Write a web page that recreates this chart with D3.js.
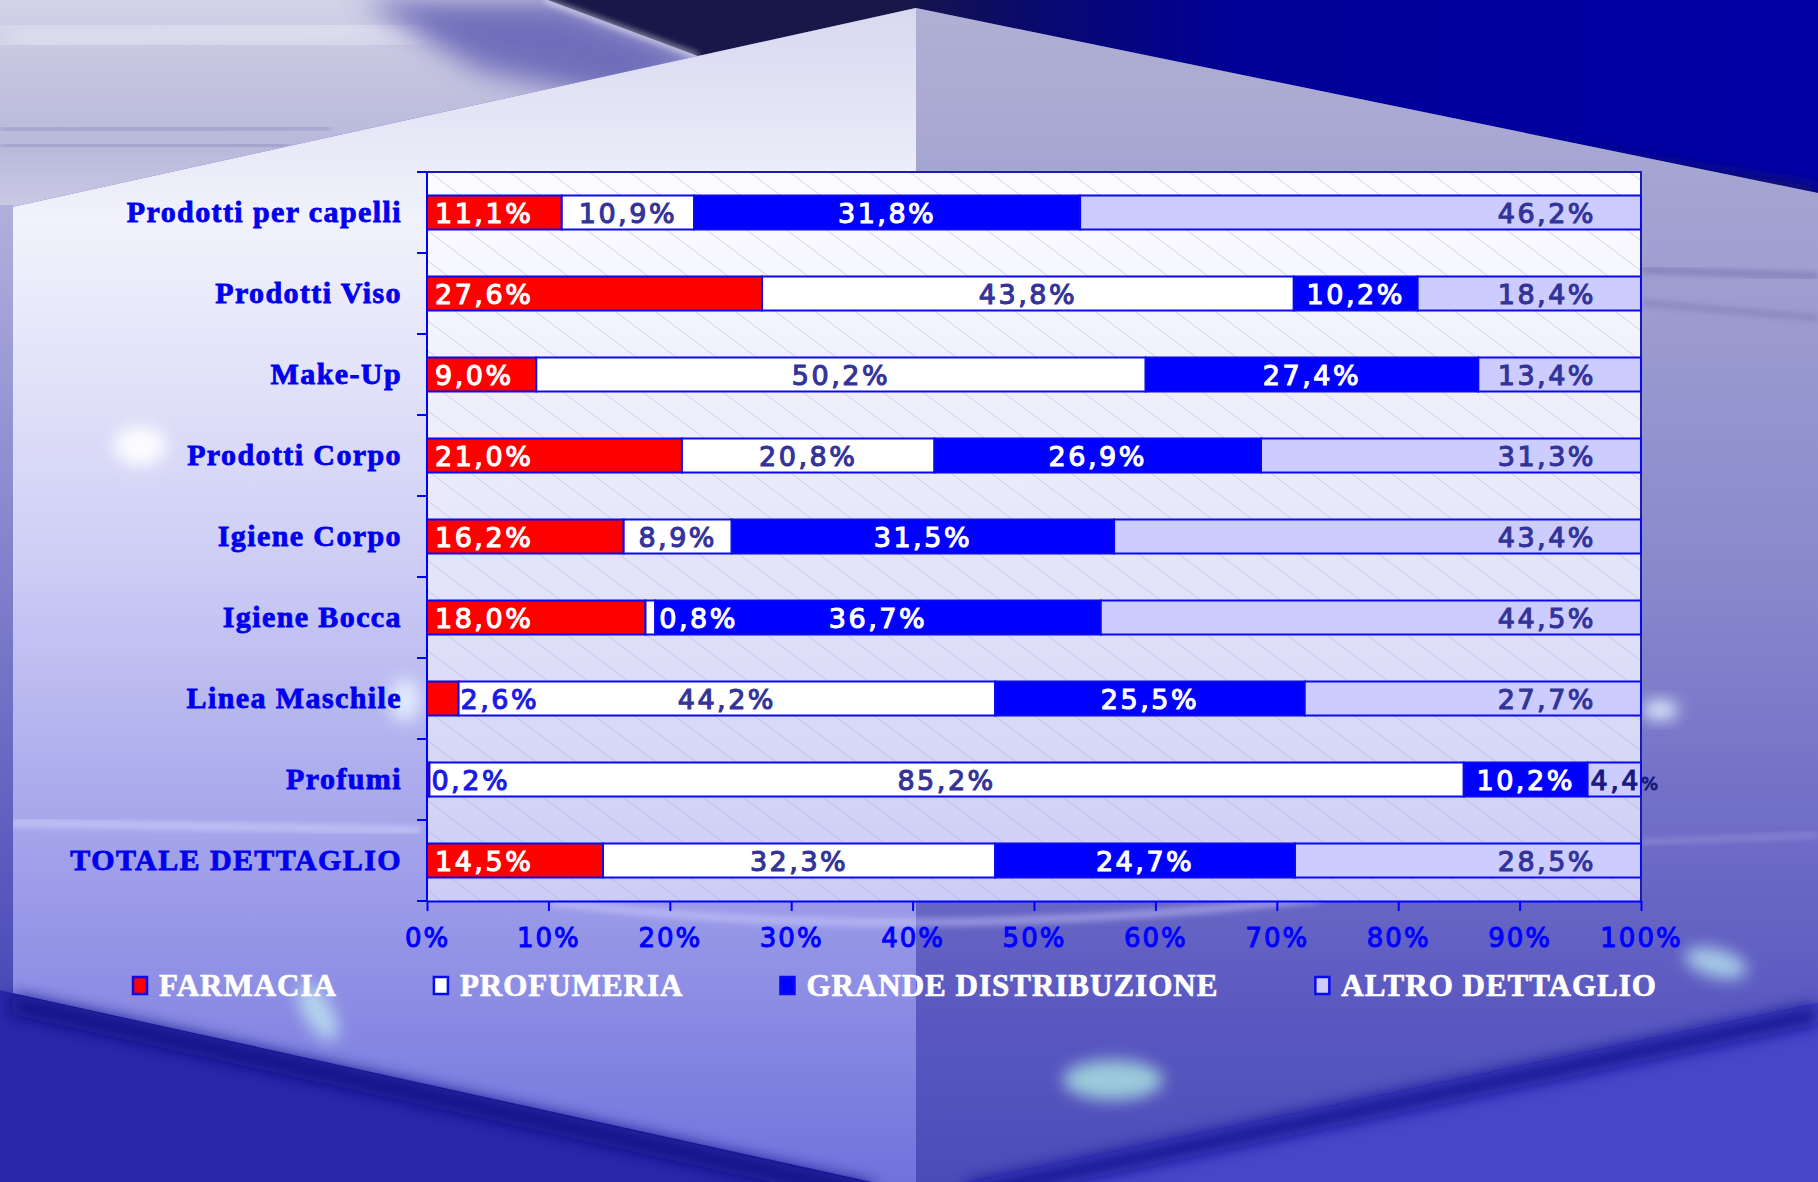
<!DOCTYPE html>
<html>
<head>
<meta charset="utf-8">
<script src="https://cdn.jsdelivr.net/npm/d3@7/dist/d3.min.js"></script>
<style>
  html, body { margin: 0; padding: 0; background: #3c3ab4; overflow: hidden; }
  svg { display: block; }
</style>
</head>
<body>
<div id="chart"></div>
<script>
// Categories, top to bottom
const categories = [
  "Prodotti per capelli",
  "Prodotti Viso",
  "Make-Up",
  "Prodotti Corpo",
  "Igiene Corpo",
  "Igiene Bocca",
  "Linea Maschile",
  "Profumi",
  "TOTALE DETTAGLIO",
];

// Channel shares (%) per category
const farmacia = [11.1, 27.6, 9.0, 21.0, 16.2, 18.0, 2.6, 0.2, 14.5];
const profumeria = [10.9, 43.8, 50.2, 20.8, 8.9, 0.8, 44.2, 85.2, 32.3];
const grandeDistribuzione = [31.8, 10.2, 27.4, 26.9, 31.5, 36.7, 25.5, 10.2, 24.7];
const altroDettaglio = [46.2, 18.4, 13.4, 31.3, 43.4, 44.5, 27.7, 4.4, 28.5];

const seriesNames = ["FARMACIA", "PROFUMERIA", "GRANDE DISTRIBUZIONE", "ALTRO DETTAGLIO"];
const xTicks = [0, 10, 20, 30, 40, 50, 60, 70, 80, 90, 100];

// Build table for the stack
const keys = ["farmacia", "profumeria", "grande", "altro"];
const table = categories.map((c, i) => ({
  category: c,
  farmacia: farmacia[i],
  profumeria: profumeria[i],
  grande: grandeDistribuzione[i],
  altro: altroDettaglio[i],
}));

const W = 1818, H = 1182;
const margin = { top: 172, right: 177, bottom: 281, left: 427 };
const plotW = W - margin.left - margin.right;
const plotH = H - margin.top - margin.bottom;

const fill = { farmacia: "#ff0000", profumeria: "#ffffff", grande: "#0000ff", altro: "#ccccff" };
const labelFont = "'DejaVu Sans', Verdana, sans-serif";
const serifFont = "'Liberation Serif', 'Times New Roman', serif";

const svg = d3.select("#chart").append("svg").attr("width", W).attr("height", H);
const defs = svg.append("defs");

function linGrad(id, stops, x1, y1, x2, y2) {
  const g = defs.append("linearGradient").attr("id", id)
    .attr("gradientUnits", "userSpaceOnUse")
    .attr("x1", x1).attr("y1", y1).attr("x2", x2).attr("y2", y2);
  stops.forEach(([o, c, a]) =>
    g.append("stop").attr("offset", o).attr("stop-color", c).attr("stop-opacity", a ?? 1));
}
function blur(id, s) {
  defs.append("filter").attr("id", id)
    .attr("x", "-50%").attr("y", "-50%").attr("width", "200%").attr("height", "200%")
    .append("feGaussianBlur").attr("stdDeviation", s);
}
blur("b3", 3); blur("b8", 8); blur("b14", 14);

// ---------- Background (3D cube scene) ----------
const bg = svg.append("g");
bg.append("rect").attr("width", W).attr("height", H).attr("fill", "#3c3ab4");

// Top-left sky
linGrad("gTL", [[0, "#d2d2e8"], [0.35, "#c4c4e0"], [0.7, "#b8b8da"], [1, "#cacae6"]], 0, 0, 0, 210);
bg.append("polygon").attr("points", "0,0 916,0 916,8 12,207 0,210").attr("fill", "url(#gTL)");
bg.append("path").attr("d", "M0,40 L420,30").attr("stroke", "#eeeefa").attr("stroke-width", 30)
  .attr("opacity", 0.6).attr("filter", "url(#b14)");
bg.append("path").attr("d", "M0,130 L330,128").attr("stroke", "#8c8cbc").attr("stroke-width", 5)
  .attr("opacity", 0.7).attr("filter", "url(#b3)");
bg.append("path").attr("d", "M0,146 L290,145").attr("stroke", "#9494c0").attr("stroke-width", 6)
  .attr("opacity", 0.8).attr("filter", "url(#b3)");
// indigo wedge
bg.append("polygon").attr("points", "360,0 560,0 720,60 620,100 480,70")
  .attr("fill", "#5a58b0").attr("opacity", 0.8).attr("filter", "url(#b14)");
// dark triangle and white beam
bg.append("polygon").attr("points", "548,0 916,0 916,8 698,56").attr("fill", "#181848");
bg.append("path").attr("d", "M545,0 L698,56").attr("stroke", "#ffffff").attr("stroke-width", 3)
  .attr("opacity", 0.85).attr("filter", "url(#b3)");

// Top-right sky
linGrad("gTR", [[0, "#14144c"], [0.12, "#0a0a6c"], [0.35, "#000096"], [1, "#0000a6"]], 916, 0, 1818, 0);
bg.append("polygon").attr("points", "916,0 1818,0 1818,193 916,8").attr("fill", "url(#gTR)");
bg.append("path").attr("d", "M1480,150 L1818,200").attr("stroke", "#1a1a58").attr("stroke-width", 26)
  .attr("opacity", 0.8).attr("filter", "url(#b8)");
bg.append("path").attr("d", "M1575,147 L1818,147").attr("stroke", "#5a5ad0").attr("stroke-width", 4)
  .attr("opacity", 0.8).attr("filter", "url(#b3)");

// Left face
linGrad("gLF", [[0, "#d8d8f0"], [0.18, "#f2f2fc"], [0.45, "#d0d0f6"], [0.72, "#a0a0ea"], [1, "#7070dc"]], 0, 8, 0, 1195);
bg.append("polygon").attr("points", "12,207 916,8 916,1195 12,993").attr("fill", "url(#gLF)");
bg.append("path").attr("d", "M12,823 L420,830").attr("stroke", "#e0e0ff").attr("stroke-width", 6)
  .attr("opacity", 0.6).attr("filter", "url(#b3)");

// Right face
linGrad("gRF", [[0, "#b0b0d4"], [0.28, "#9a9ad0"], [0.5, "#8686cc"], [0.7, "#6e6cc6"], [0.85, "#5a58c0"], [1, "#4c4ab8"]], 0, 8, 0, 1195);
bg.append("polygon").attr("points", "916,8 1818,193 1818,1003 916,1195").attr("fill", "url(#gRF)");
bg.append("path").attr("d", "M1641,270 L1818,276").attr("stroke", "#6a6aa4").attr("stroke-width", 5)
  .attr("opacity", 0.7).attr("filter", "url(#b3)");
bg.append("path").attr("d", "M1641,303 L1818,318").attr("stroke", "#6a6aa4").attr("stroke-width", 4)
  .attr("opacity", 0.6).attr("filter", "url(#b3)");
bg.append("path").attr("d", "M1641,842 L1818,835").attr("stroke", "#c8c8f0").attr("stroke-width", 3)
  .attr("opacity", 0.5).attr("filter", "url(#b3)");

// Left strip
linGrad("gLS", [[0, "#b0b0dc"], [1, "#4a4ab8"]], 0, 207, 0, 993);
bg.append("rect").attr("x", 0).attr("y", 205).attr("width", 13).attr("height", 790).attr("fill", "url(#gLS)");

// Bottom regions
bg.append("polygon").attr("points", "0,990 12,993 872,1182 0,1182").attr("fill", "#2a28a8");
bg.append("path").attr("d", "M12,1004 L872,1194").attr("stroke", "#0a0a80").attr("stroke-width", 20)
  .attr("opacity", 0.85).attr("filter", "url(#b8)");
bg.append("polygon").attr("points", "1818,1003 966,1182 1818,1182").attr("fill", "#4846c8");
bg.append("path").attr("d", "M1818,1014 L966,1194").attr("stroke", "#0c0c8c").attr("stroke-width", 20)
  .attr("opacity", 0.85).attr("filter", "url(#b8)");

// light streak under the axis
bg.append("path").attr("d", "M551,902 Q900,945 1320,898").attr("fill", "none")
  .attr("stroke", "#d8d8ff").attr("stroke-width", 8).attr("opacity", 0.45).attr("filter", "url(#b3)");

// glows
const glows = [
  { cx: 140, cy: 446, rx: 26, ry: 20, r: 0, c: "#ffffff", o: 0.9 },
  { cx: 318, cy: 1012, rx: 14, ry: 32, r: -30, c: "#c0e6f0", o: 0.8 },
  { cx: 1113, cy: 1080, rx: 50, ry: 20, r: 0, c: "#a8e0e0", o: 0.85 },
  { cx: 1716, cy: 963, rx: 32, ry: 14, r: 15, c: "#b8e4f0", o: 0.8 },
  { cx: 1660, cy: 710, rx: 18, ry: 10, r: 0, c: "#e8f4ff", o: 0.9 },
  { cx: 405, cy: 700, rx: 16, ry: 22, r: 0, c: "#eaf4ff", o: 0.8 },
];
bg.selectAll("ellipse.glow").data(glows).join("ellipse")
  .attr("class", "glow")
  .attr("transform", (d) => `translate(${d.cx},${d.cy}) rotate(${d.r})`)
  .attr("rx", (d) => d.rx).attr("ry", (d) => d.ry)
  .attr("fill", (d) => d.c).attr("opacity", (d) => d.o)
  .attr("filter", "url(#b8)");

// ---------- Plot ----------
const x = d3.scaleLinear().domain([0, 100]).range([margin.left, margin.left + plotW]);
const y = d3.scaleBand().domain(categories).range([margin.top, margin.top + plotH])
  .paddingInner(0.58).paddingOuter(0.29);
const step = y.step();

// Plot background gradient + hatch
linGrad("gPlot", [[0, "#fcfcff"], [0.35, "#eeeefc"], [0.7, "#dcdcf8"], [1, "#ccccf6"]], 0, margin.top, 0, margin.top + plotH);
const hatch = defs.append("pattern").attr("id", "hatch").attr("patternUnits", "userSpaceOnUse")
  .attr("width", 40).attr("height", 30);
hatch.append("path").attr("d", "M-4,-3 L44,33 M-44,-3 L4,33 M36,-3 L84,33")
  .attr("stroke", "#9a9ac4").attr("stroke-width", 0.8).attr("opacity", 0.5);

const plot = svg.append("g");
plot.append("rect").attr("x", margin.left).attr("y", margin.top)
  .attr("width", plotW).attr("height", plotH).attr("fill", "url(#gPlot)");
plot.append("rect").attr("x", margin.left).attr("y", margin.top)
  .attr("width", plotW).attr("height", plotH).attr("fill", "url(#hatch)");

// Top and right borders
plot.append("path")
  .attr("d", `M${margin.left},${margin.top} H${margin.left + plotW} V${margin.top + plotH}`)
  .attr("fill", "none").attr("stroke", "#1c1cb0").attr("stroke-width", 2);

// Stacked bars
const stack = d3.stack().keys(keys)(table);
const layers = plot.selectAll("g.layer").data(stack).join("g").attr("class", "layer");
layers.selectAll("rect").data((s) => s.map((d) => ({ d, key: s.key }))).join("rect")
  .attr("x", (o) => x(o.d[0]))
  .attr("y", (o) => y(o.d.data.category))
  .attr("width", (o) => x(o.d[1]) - x(o.d[0]))
  .attr("height", y.bandwidth())
  .attr("fill", (o) => fill[o.key])
  .attr("stroke", "#0a0af0").attr("stroke-width", 2);

// Data labels
const fmt = (v) => d3.format(".1f")(v).replace(".", ",");
const labels = [];
stack.forEach((s, si) => {
  s.forEach((d) => {
    const v = d[1] - d[0];
    const x0 = x(d[0]), x1 = x(d[1]);
    const cy = y(d.data.category) + y.bandwidth() / 2;
    let lx, anchor, color, smallPct = false;
    if (si === 0) {
      if (v >= 5) { lx = x0 + 8; anchor = "start"; color = "#ffffff"; }
      else { lx = x1 + 2; anchor = "start"; color = "#1a1ae8"; }
    } else if (si === 1) {
      if (v >= 5) { lx = (x0 + x1) / 2; anchor = "middle"; color = "#333399"; }
      else { lx = x1 + 4; anchor = "start"; color = "#ffffff"; }
    } else if (si === 2) {
      lx = (x0 + x1) / 2; anchor = "middle"; color = "#ffffff";
    } else {
      if (v >= 5) { lx = x(100) - 45; anchor = "end"; color = "#333399"; }
      else { lx = x0 + 3; anchor = "start"; color = "#1a1a80"; smallPct = true; }
    }
    labels.push({ v, lx, cy, anchor, color, smallPct });
  });
});
const lab = plot.selectAll("text.dl").data(labels).join("text")
  .attr("class", "dl")
  .attr("x", (d) => d.lx).attr("y", (d) => d.cy + 10)
  .attr("text-anchor", (d) => d.anchor)
  .attr("fill", (d) => d.color).attr("stroke", (d) => d.color).attr("stroke-width", 1.1)
  .style("font-family", labelFont).style("font-size", "27px").style("letter-spacing", "2.5px");
lab.append("tspan").text((d) => fmt(d.v));
lab.append("tspan").style("font-size", (d) => (d.smallPct ? "18px" : null)).text("%");

// Y axis: line, boundary ticks, category labels
plot.append("line").attr("x1", margin.left).attr("x2", margin.left)
  .attr("y1", margin.top).attr("y2", margin.top + plotH)
  .attr("stroke", "#0000ff").attr("stroke-width", 2);
plot.selectAll("line.yt").data(d3.range(categories.length + 1)).join("line")
  .attr("class", "yt")
  .attr("x1", margin.left - 10).attr("x2", margin.left)
  .attr("y1", (k) => margin.top + k * step).attr("y2", (k) => margin.top + k * step)
  .attr("stroke", "#0000ff").attr("stroke-width", 2);

const yAxis = plot.append("g").attr("transform", `translate(${margin.left},0)`)
  .call(d3.axisLeft(y).tickSize(0).tickPadding(25));
yAxis.select(".domain").remove();
yAxis.selectAll("text")
  .attr("fill", "#0000ee").attr("stroke", "#0000ee").attr("stroke-width", 0.8)
  .attr("dy", "0.3em")
  .style("font-family", serifFont).style("font-weight", "bold")
  .style("font-size", "30px").style("letter-spacing", "1.4px");

// X axis
const xAxis = plot.append("g").attr("transform", `translate(0,${margin.top + plotH})`)
  .call(d3.axisBottom(x).tickValues(xTicks).tickSize(10).tickSizeOuter(0).tickFormat((d) => d + "%"));
xAxis.select(".domain").attr("stroke", "#0000ff").attr("stroke-width", 2);
xAxis.selectAll(".tick line").attr("stroke", "#0000ff").attr("stroke-width", 2);
xAxis.selectAll("text")
  .attr("y", 46).attr("dy", 0).attr("fill", "#0000ff")
  .attr("stroke", "#0000ff").attr("stroke-width", 1)
  .style("font-family", labelFont).style("font-size", "26px").style("letter-spacing", "2px");

// ---------- Legend ----------
const legend = svg.append("g");
let lxPos = 132;
seriesNames.forEach((name, i) => {
  legend.append("rect").attr("x", lxPos + 1).attr("y", 977).attr("width", 14).attr("height", 17)
    .attr("fill", fill[keys[i]]).attr("stroke", "#0a0af0").attr("stroke-width", 2.5);
  const t = legend.append("text").attr("x", lxPos + 27).attr("y", 996)
    .attr("fill", "#ffffff").attr("stroke", "#ffffff").attr("stroke-width", 0.7)
    .style("font-family", serifFont).style("font-weight", "bold")
    .style("font-size", "31px").style("letter-spacing", "1px")
    .text(name);
  lxPos += 27 + t.node().getComputedTextLength() + 96;
});
</script>
</body>
</html>
